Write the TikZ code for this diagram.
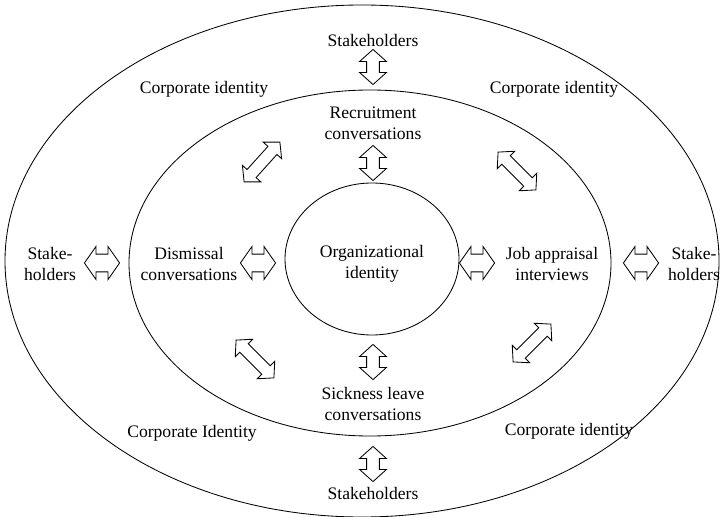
\documentclass[tikz,border=0pt]{standalone}
\usepackage{fontspec}
\setmainfont{Liberation Serif}
\usetikzlibrary{shapes.arrows}

\begin{document}
\begin{tikzpicture}
[x=0.025cm, y=-0.025cm, line width=0.6pt,
txt/.style = {align=center, font=\fontsize{12.5}{15}\selectfont, inner sep=1pt},
dblarr/.style = {double arrow, draw, inner xsep=0pt, inner ysep=4.25pt, minimum height=25pt, double arrow head extend=5pt, double arrow tip angle=96},
widearr/.style = {dblarr, inner ysep=6pt, double arrow head extend=5.5pt, double arrow tip angle=110},
diagarr/.style = {dblarr, minimum height=38pt, inner ysep=4pt, double arrow head extend=4.5pt, double arrow tip angle=96},]

\useasboundingbox (0,0) rectangle (720,517);
% the three rings
\draw (362,261) ellipse [x radius=357, y radius=256];
\draw (370,263) ellipse [x radius=241, y radius=173];
\draw (372,259) ellipse [x radius=87, y radius=76];

\node (org) at (372,264)[txt] {Organizational\\identity};
\node (rec) at (373,123)[txt] {Recruitment\\conversations};
\node (sick) at (373,404)[txt] {Sickness leave\\conversations};
\node (dis) at (189,264)[txt] {Dismissal\\conversations};
\node (job) at (552,264)[txt] {Job appraisal\\interviews};

\node (stT) at (373,40)[txt] {Stakeholders};
\node (stB) at (373,493)[txt] {Stakeholders};
\node (stL) at (50,264)[txt] {Stake-\\holders};
\node (stR) at (694,264)[txt] {Stake-\\holders};

\node (ciTL) at (204,89)[txt] {Corporate identity};
\node (ciTR) at (554,89)[txt] {Corporate identity};
\node (ciBL) at (192,433)[txt] {Corporate Identity};
\node (ciBR) at (569,431)[txt] {Corporate identity};

% arrows
\node (aT) at (373,67)[dblarr, rotate=90] {};
\node (aR) at (373,163)[dblarr, rotate=90] {};
\node (aS) at (373,362)[dblarr, rotate=90] {};
\node (aB) at (373,464)[dblarr, rotate=90] {};
\node (aL1) at (102,263)[widearr] {};
\node (aL2) at (258,263)[widearr] {};
\node (aR2) at (477,263)[widearr] {};
\node (aR1) at (641,263)[widearr] {};
\node (aNW) at (262,162)[diagarr, rotate=48] {};
\node (aNE) at (517,171)[diagarr, rotate=-45] {};
\node (aSW) at (255,359)[diagarr, rotate=-45] {};
\node (aSE) at (532,343)[diagarr, rotate=45] {};
\end{tikzpicture}
\end{document}
